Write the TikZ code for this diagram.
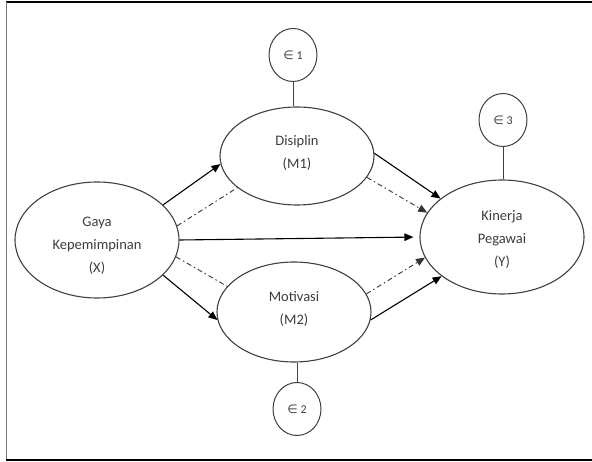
\documentclass[tikz,border=0pt]{standalone}
\usepackage{fontspec}
\setmainfont{Carlito}
\newfontfamily\symfnt{DejaVu Sans}
\usetikzlibrary{shapes.geometric,arrows.meta}
\definecolor{txtgray}{HTML}{3C3C3C}
\definecolor{linegray}{HTML}{404040}
\tikzset{
  ell/.style={ellipse,draw=linegray,line width=1.1pt,inner sep=0pt},
  errc/.style={ellipse,draw=linegray,line width=1.0pt,inner sep=0pt,minimum width=48pt,minimum height=53pt,
    font=\fontsize{12}{14}\selectfont,text=txtgray},
  lbl/.style={align=center,text=txtgray,font=\fontsize{14.5}{23}\selectfont,inner sep=0pt},
  arr/.style={-{Triangle[length=9pt,width=7.5pt]},line width=1.1pt,black},
  dd/.style={line width=0.9pt,black!80,dash pattern=on 5pt off 3pt on 1.5pt off 3pt},
  dda/.style={dd,-{Triangle[length=9pt,width=7.5pt]}},
  errl/.style={line width=1.0pt,linegray},
  frame/.style={line width=1.8pt}
}
\begin{document}
\begin{tikzpicture}[x=1pt,y=-1pt]
\useasboundingbox (0,0) rectangle (592,462);
% frame
\draw[frame,black] (5.5,2) -- (592,2);
\draw[frame,black!55] (6.5,2) -- (6.5,460);
\draw[frame,black] (5.5,460) -- (592,460);
% constructs
\node[ell,minimum width=164pt,minimum height=116pt] (X) at (97,240) {};
\node[ell,minimum width=154pt,minimum height=98pt] (M1) at (297,156) {};
\node[ell,minimum width=154pt,minimum height=100pt] (M2) at (294,312) {};
\node[ell,minimum width=164pt,minimum height=114pt] (Y) at (502,237) {};
\node[lbl] (Xt) at (97,246) {Gaya\\Kepemimpinan\\(X)};
\node[lbl] (M1t) at (297,153) {Disiplin\\(M1)};
\node[lbl] (M2t) at (294,309) {Motivasi\\(M2)};
\node[lbl] (Yt) at (502,240) {Kinerja\\Pegawai\\(Y)};
% error terms
\node[errc] (e1) at (293,55) {{\symfnt ∈} 1};
\node[errc] (e2) at (297,409) {{\symfnt ∈} 2};
\node[errc] (e3) at (503,120) {{\symfnt ∈} 3};
\draw[errl] (e1.south) -- (e1.south |- M1.north);
\draw[errl] (e2.north) -- (e2.north |- M2.south);
\draw[errl] (e3.south) -- (e3.south |- Y.north);
% direct paths
\draw[arr] (X.28) -- (M1.186);
\draw[arr] (X.-28) -- (M2.186);
\draw[arr,shorten >=6pt] (X.0) -- (Y.180);
\draw[arr] (M1.2) -- (Y.148);
\draw[arr] (M2.-6) -- (Y.213);
% indirect paths
\draw[dd] (X.10.5) -- (M1.208);
\draw[dda] (M1.-17) -- (Y.162);
\draw[dd] (X.-12) -- (M2.159);
\draw[dda] (M2.14.5) -- (Y.195.5);
\end{tikzpicture}
\end{document}
